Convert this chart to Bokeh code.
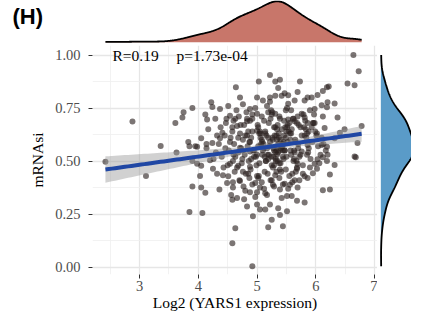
import numpy as np
from bokeh.plotting import figure
from bokeh.layouts import column, row
from bokeh.models import Range1d, FixedTicker, NumeralTickFormatter, Label
from bokeh.embed import file_html
from bokeh.resources import INLINE

# ---- data ----
log2_yars1 = [
    # sparse, upper left
    2.42, 2.88, 3.11, 3.36, 3.63, 3.61, 3.75, 3.73, 3.90, 4.64,
    4.22, 4.24, 4.12, 4.29, 4.15, 4.17, 4.05, 3.85, 3.95, 4.14,
    4.24, 3.83, 3.98, 4.14, 4.37, 4.51, 4.54, 4.47, 4.63, 4.66,
    4.71, 4.76, 4.88, 5.00, 5.03, 4.92, 4.83, 4.58, 4.41, 4.37,
    4.54, 4.68, 4.83, 4.88, 5.00, 4.71, 4.88, 5.00,
    # sparse, upper right
    6.64, 6.73, 6.54, 6.66, 5.22, 5.31, 5.39, 5.73, 5.36, 5.69,
    5.47, 5.53, 5.42, 6.22, 6.19, 6.12, 6.03, 5.93, 5.86, 5.81,
    5.64, 5.10, 5.22, 5.31, 5.51, 5.49, 6.20, 6.32, 6.10, 6.19,
    5.98, 5.90, 6.37, 6.12, 5.98, 6.15, 5.76, 5.69, 5.81, 5.08,
    5.00, 5.19, 5.31, 5.39, 5.53, 5.64, 5.86, 6.78, 6.41, 6.10,
    6.19, 6.71, 6.66, 6.20, 5.86, 5.76, 6.49, 6.32,
    # sparse, lower left
    3.85, 4.07, 4.63, 4.58, 4.92, 3.90, 4.05, 4.03, 4.12, 4.36,
    4.25, 4.32, 4.42, 4.05, 3.98, 3.90, 4.20, 4.51, 4.49, 4.59,
    4.59, 4.56, 4.58, 4.66, 4.71, 4.80, 4.78, 4.83, 4.88, 4.97,
    5.00, 4.93, 4.54, 4.59, 4.68, 4.76, 4.88, 4.85, 5.00, 4.97,
    # sparse, lower right
    5.19, 5.44, 5.25, 5.39, 5.51, 5.36, 5.05, 5.14, 5.22, 5.42,
    5.51, 5.59, 5.68, 5.81, 5.14, 5.17, 5.27, 5.39, 5.53, 5.69,
    5.47, 5.56, 5.64, 6.12, 6.24, 6.24, 6.32, 6.68, 5.81, 5.86,
    5.95, 6.02, 5.68, 5.69, 5.25, 5.31, 5.02, 5.05, 5.00, 6.12,
    6.19, 6.03, 5.98,
    # dense core
    4.45, 4.52, 4.58, 4.61, 4.63, 4.66, 4.69, 4.71, 4.73, 4.74,
    4.76, 4.78, 4.79, 4.81, 4.82, 4.84, 4.85, 4.86, 4.88, 4.89,
    4.90, 4.93, 4.97, 5.02, 4.95, 5.07, 4.99, 5.04, 4.92, 5.11,
    5.06, 5.13, 5.01, 5.18, 5.09, 5.24, 5.15, 5.05, 5.21, 5.12,
    5.27, 5.16, 5.33, 5.22, 5.08, 5.29, 5.19, 5.36, 5.25, 5.14,
    5.31, 5.20, 5.38, 5.26, 5.42, 5.17, 5.34, 5.28, 5.45, 5.23,
    5.39, 5.30, 5.47, 5.35, 5.26, 5.43, 5.32, 5.50, 5.37, 5.41,
    5.46, 5.34, 5.53, 5.40, 5.29, 5.48, 5.36, 5.56, 5.44, 5.38,
    5.52, 5.41, 5.59, 5.47, 5.33, 5.55, 5.62, 5.45, 5.58, 5.49,
    5.64, 5.51, 5.68, 5.57, 5.43, 5.61, 5.72, 5.54, 5.66, 5.60,
    5.71, 5.63, 5.76, 5.67, 5.79, 5.70, 5.83, 5.74, 5.65, 5.78,
    5.82, 5.88, 5.85, 5.91, 5.80, 5.94, 5.87, 5.97, 5.84, 5.90,
    5.99, 6.04, 5.96, 6.08, 6.01, 6.13, 6.06, 5.93, 6.17, 6.10,
    4.62, 4.70, 4.77, 4.87, 4.92, 5.03, 5.08, 5.12, 5.18, 5.23,
    5.29, 5.33, 5.38, 5.44, 5.49, 5.55, 5.60, 5.66, 5.72, 5.78,
    4.98, 5.04, 5.10, 5.15, 5.20, 5.25, 5.28, 5.32, 5.36, 5.40,
    5.02, 5.09, 5.17, 5.24, 5.29, 5.35, 5.44, 5.50, 5.57, 5.63,
    4.55, 4.60, 4.65, 4.68, 4.72, 4.75, 4.80, 4.83, 4.87, 4.92,
    5.06, 5.11, 5.14, 5.19, 5.22, 5.27, 5.31, 5.34, 5.37, 5.42,
    5.46, 5.52, 5.58, 5.62, 5.68, 5.74, 5.81, 5.88, 5.95, 6.02,
    4.40, 4.46, 4.50, 4.35, 4.30, 4.43, 4.48, 4.38, 4.32, 4.26,
    4.60, 4.75, 4.90, 5.45, 5.58, 5.70, 5.85, 4.95, 5.13, 5.38,
]

mrnasi = [
    # sparse, upper left
    0.497, 0.687, 0.43, 0.571, 0.54, 0.68, 0.73, 0.705, 0.75, 0.848,
    0.777, 0.755, 0.72, 0.70, 0.696, 0.65, 0.607, 0.57, 0.57, 0.58,
    0.585, 0.59, 0.567, 0.56, 0.745, 0.76, 0.714, 0.68, 0.70, 0.665,
    0.80, 0.768, 0.745, 0.80, 0.875, 0.72, 0.688, 0.64, 0.634, 0.607,
    0.59, 0.61, 0.62, 0.59, 0.643, 0.563, 0.545, 0.53,
    # sparse, upper right
    1.0, 0.924, 0.866, 0.857, 0.906, 0.875, 0.884, 0.875, 0.844, 0.826,
    0.82, 0.81, 0.808, 0.852, 0.848, 0.83, 0.812, 0.80, 0.80, 0.786,
    0.786, 0.786, 0.80, 0.808, 0.75, 0.74, 0.777, 0.772, 0.763, 0.754,
    0.745, 0.74, 0.705, 0.71, 0.68, 0.656, 0.723, 0.71, 0.705, 0.71,
    0.723, 0.73, 0.723, 0.70, 0.696, 0.688, 0.68, 0.665, 0.634, 0.576,
    0.567, 0.585, 0.522, 0.53, 0.576, 0.545, 0.65, 0.607,
    # sparse, lower left
    0.26, 0.255, 0.183, 0.112, 0.004, 0.38, 0.375, 0.43, 0.35, 0.366,
    0.464, 0.44, 0.433, 0.478, 0.487, 0.50, 0.504, 0.428, 0.397, 0.40,
    0.375, 0.34, 0.317, 0.326, 0.406, 0.36, 0.32, 0.286, 0.353, 0.33,
    0.295, 0.24, 0.487, 0.50, 0.478, 0.45, 0.473, 0.44, 0.43, 0.397,
    # sparse, lower right
    0.188, 0.192, 0.223, 0.246, 0.263, 0.277, 0.272, 0.272, 0.295, 0.326,
    0.335, 0.335, 0.313, 0.304, 0.348, 0.34, 0.388, 0.366, 0.37, 0.375,
    0.393, 0.388, 0.41, 0.362, 0.366, 0.437, 0.482, 0.518, 0.428, 0.42,
    0.442, 0.464, 0.464, 0.487, 0.41, 0.433, 0.42, 0.375, 0.353, 0.518,
    0.50, 0.509, 0.487,
    # dense core
    0.62, 0.55, 0.66, 0.58, 0.52, 0.47, 0.71, 0.63, 0.56, 0.49,
    0.60, 0.67, 0.53, 0.44, 0.73, 0.57, 0.64, 0.50, 0.69, 0.46,
    0.61, 0.55, 0.75, 0.66, 0.52, 0.58, 0.48, 0.63, 0.70, 0.56,
    0.61, 0.45, 0.67, 0.53, 0.59, 0.74, 0.50, 0.64, 0.57, 0.69,
    0.47, 0.62, 0.55, 0.78, 0.60, 0.66, 0.51, 0.58, 0.72, 0.63,
    0.54, 0.68, 0.49, 0.61, 0.57, 0.76, 0.65, 0.52, 0.59, 0.70,
    0.46, 0.62, 0.55, 0.67, 0.73, 0.58, 0.50, 0.64, 0.61, 0.56,
    0.69, 0.53, 0.77, 0.60, 0.48, 0.66, 0.57, 0.63, 0.52, 0.71,
    0.59, 0.45, 0.65, 0.55, 0.62, 0.68, 0.50, 0.58, 0.74, 0.61,
    0.54, 0.66, 0.47, 0.60, 0.57, 0.70, 0.52, 0.64, 0.59, 0.44,
    0.67, 0.55, 0.62, 0.50, 0.72, 0.58, 0.65, 0.53, 0.60, 0.48,
    0.69, 0.56, 0.63, 0.51, 0.66, 0.59, 0.54, 0.72, 0.61, 0.47,
    0.64, 0.57, 0.68, 0.53, 0.62, 0.58, 0.49, 0.66, 0.55, 0.61,
    0.45, 0.41, 0.38, 0.42, 0.39, 0.43, 0.40, 0.37, 0.44, 0.41,
    0.38, 0.45, 0.42, 0.39, 0.46, 0.43, 0.40, 0.45, 0.41, 0.44,
    0.52, 0.49, 0.55, 0.50, 0.53, 0.48, 0.56, 0.51, 0.54, 0.49,
    0.57, 0.53, 0.56, 0.52, 0.55, 0.50, 0.55, 0.52, 0.55, 0.51,
    0.61, 0.69, 0.74, 0.54, 0.67, 0.51, 0.62, 0.70, 0.59, 0.64,
    0.63, 0.58, 0.64, 0.61, 0.59, 0.60, 0.66, 0.60, 0.63, 0.65,
    0.62, 0.67, 0.63, 0.70, 0.68, 0.66, 0.62, 0.64, 0.68, 0.63,
    0.52, 0.56, 0.48, 0.58, 0.54, 0.47, 0.70, 0.66, 0.62, 0.51,
    0.53, 0.55, 0.51, 0.51, 0.53, 0.56, 0.53, 0.55, 0.52, 0.55,
]

x_ticks = [3, 4, 5, 6, 7]
y_ticks = [0.0, 0.25, 0.50, 0.75, 1.00]
panel_tag = "(H)"
r_text = "R=0.19"
p_text = "p=1.73e-04"
x_title = "Log2 (YARS1 expression)"
y_title = "mRNAsi"

# ---- derived quantities ----
x = np.array(log2_yars1, dtype=float)
y = np.array(mrnasi, dtype=float)
n = len(x)


def kde(v, m=512):
    sd = v.std(ddof=1)
    q75, q25 = np.percentile(v, [75, 25])
    bw = 0.9 * min(sd, (q75 - q25) / 1.34) * len(v) ** -0.2
    g = np.linspace(v.min(), v.max(), m)
    d = np.exp(-0.5 * ((g[:, None] - v[None, :]) / bw) ** 2).sum(1) / (len(v) * bw * np.sqrt(2 * np.pi))
    return g, d


slope, icpt = np.polyfit(x, y, 1)
xg = np.linspace(x.min(), x.max(), 80)
yhat = icpt + slope * xg
resid = y - (icpt + slope * x)
s = np.sqrt((resid ** 2).sum() / (n - 2))
sxx = ((x - x.mean()) ** 2).sum()
se = s * np.sqrt(1.0 / n + (xg - x.mean()) ** 2 / sxx)
tq = 1.966

gx, dx = kde(x)
gy, dy = kde(y)

# ---- layout geometry ----
LEFT = 92
FRAME_W = 285
RIGHT_W = 34
TOP_H = 45
MAIN_H = 268
BOTTOM = 38
X0, X1 = 2.2, 7.05
Y0, Y1 = -0.035, 1.045
scale = FRAME_W / (X1 - X0)

serif = "Liberation Serif"

# ---- main scatter ----
p = figure(width=LEFT + FRAME_W, height=MAIN_H,
           x_range=Range1d(X0, X1), y_range=Range1d(Y0, Y1),
           output_backend="svg", toolbar_location=None,
           min_border_left=LEFT, min_border_right=0,
           min_border_top=0, min_border_bottom=BOTTOM)
p.outline_line_color = None
p.background_fill_color = "white"
p.border_fill_color = "white"

p.scatter(x, y, size=6, fill_color="#2a211e", fill_alpha=0.62, line_color=None)
p.varea(x=xg, y1=yhat - tq * se, y2=yhat + tq * se, fill_color="#999999", fill_alpha=0.45)
p.line(xg, yhat, line_color="#2047A4", line_width=4)

p.xaxis.ticker = FixedTicker(ticks=x_ticks, minor_ticks=[2.5, 3.5, 4.5, 5.5, 6.5])
p.yaxis.ticker = FixedTicker(ticks=y_ticks, minor_ticks=[0.125, 0.375, 0.625, 0.875])
p.yaxis.formatter = NumeralTickFormatter(format="0.00")

for ax in (p.xaxis[0], p.yaxis[0]):
    ax.axis_line_color = None
    ax.major_tick_line_color = "#333333"
    ax.major_tick_out = 4
    ax.major_tick_in = 0
    ax.minor_tick_line_color = None
    ax.major_label_text_font = serif
    ax.major_label_text_font_size = "14.5px"
    ax.major_label_text_color = "#4d4d4d"
    ax.axis_label_text_font = serif
    ax.axis_label_text_font_size = "15.5px"
    ax.axis_label_text_font_style = "normal"
    ax.axis_label_text_color = "black"

p.xaxis.axis_label = x_title
p.yaxis.axis_label = y_title
p.xaxis.major_label_standoff = 2
p.xaxis.axis_label_standoff = 0
p.yaxis.major_label_standoff = 8
p.yaxis.axis_label_standoff = 6

for g in (p.xgrid[0], p.ygrid[0]):
    g.grid_line_color = "#e6e6e6"
    g.grid_line_width = 1.3
    g.minor_grid_line_color = "#efefef"
    g.minor_grid_line_width = 0.8

p.add_layout(Label(x=2.54, y=1.0, text=r_text, text_baseline="middle",
                   text_font=serif, text_font_size="15.5px", text_color="black"))
p.add_layout(Label(x=3.63, y=1.0, text=p_text, text_baseline="middle",
                   text_font=serif, text_font_size="15.5px", text_color="black"))

# ---- top marginal density ----
top = figure(width=LEFT + FRAME_W + RIGHT_W, height=TOP_H,
             x_range=Range1d(X0 - LEFT / scale, X1 + RIGHT_W / scale),
             y_range=Range1d(-0.08 * dx.max(), 1.02 * dx.max()),
             output_backend="svg", toolbar_location=None,
             x_axis_location=None, y_axis_location=None,
             min_border_left=0, min_border_right=0, min_border_top=0, min_border_bottom=0)
top.grid.visible = False
top.outline_line_color = None
top.background_fill_color = "white"
top.border_fill_color = "white"
top.varea(x=gx, y1=0, y2=dx, fill_color="#C8766A")
top.line(gx, dx, line_color="black", line_width=1.8)
top.add_layout(Label(x=12, y=TOP_H - 3, x_units="screen", y_units="screen", text=panel_tag,
                     text_baseline="top", text_font="Liberation Sans", text_font_style="bold",
                     text_font_size="22px", text_color="black"))

# ---- right marginal density ----
right = figure(width=RIGHT_W, height=MAIN_H,
               x_range=Range1d(-0.1 * dy.max(), 0.92 * dy.max()),
               y_range=p.y_range,
               output_backend="svg", toolbar_location=None,
               x_axis_location=None, y_axis_location=None,
               min_border_left=0, min_border_right=0, min_border_top=0, min_border_bottom=BOTTOM)
right.grid.visible = False
right.outline_line_color = None
right.background_fill_color = "white"
right.border_fill_color = "white"
right.harea(y=gy, x1=0, x2=dy, fill_color="#5A9BC8")
right.line(dy, gy, line_color="black", line_width=1.8)

layout = column(top, row(p, right))
open("out.html", "w").write(file_html(layout, INLINE))
